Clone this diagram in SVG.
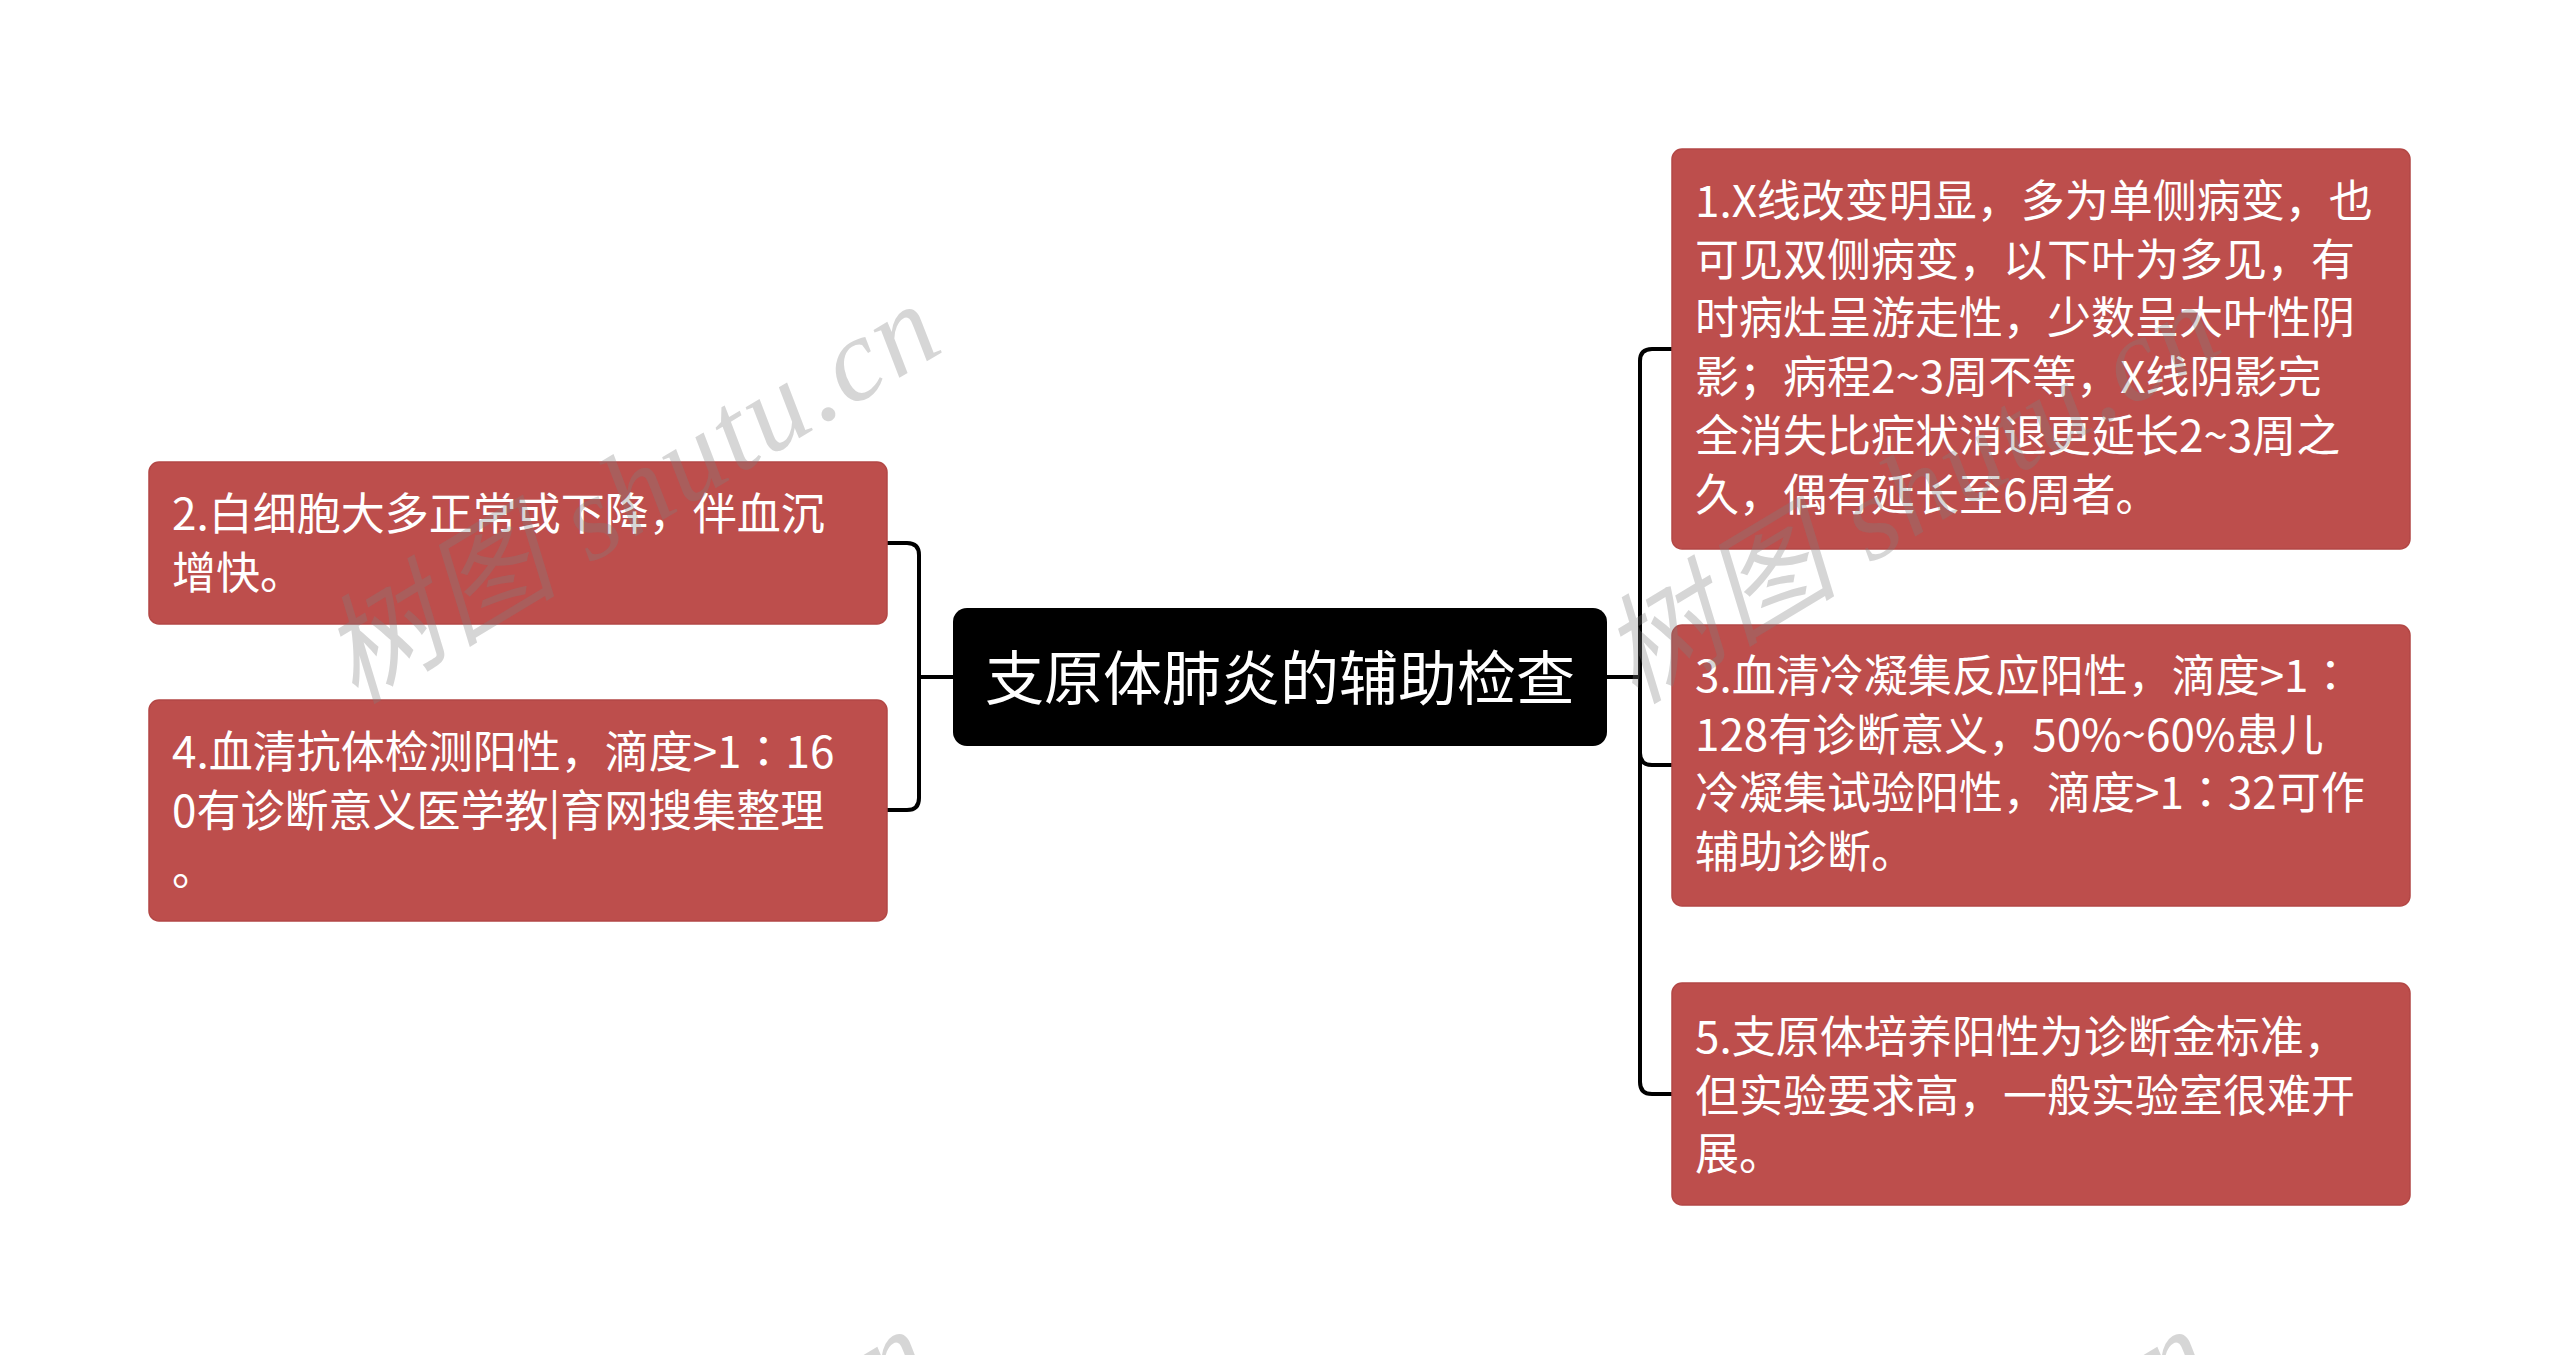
<svg xmlns="http://www.w3.org/2000/svg" width="2560" height="1355" viewBox="0 0 2560 1355">
<style>
.node rect{fill:#BD4E4C;stroke:#B34745;stroke-width:1.5}
.node text{font-family:"Noto Sans CJK SC","Noto Sans",sans-serif;font-size:44px;fill:#FFFFFF}
.node .col{font-family:"Noto Sans CJK TC","Noto Sans CJK SC",sans-serif}
.conn path{fill:none;stroke:#000000;stroke-width:4;stroke-linejoin:round}
.wm{font-family:"Liberation Serif","Noto Sans CJK SC",serif;font-style:italic;font-size:118px;fill:#808080;fill-opacity:0.32}
</style>
<rect x="0" y="0" width="2560" height="1355" fill="#FFFFFF"/>
<g id="connectors" class="conn">
<path d="M953,677 H919 V555 Q919,543 907,543 H887"/>
<path d="M953,677 H919 V798 Q919,810 907,810 H887"/>
<path d="M1607,677 H1640 V361 Q1640,349 1652,349 H1672"/>
<path d="M1607,677 H1640 V753 Q1640,765 1652,765 H1672"/>
<path d="M1607,677 H1640 V1082 Q1640,1094 1652,1094 H1672"/>
</g>
<g id="center">
<rect x="953" y="608" width="654" height="138" rx="14" fill="#000000"/>
<text x="1280" y="700" text-anchor="middle" font-family="Noto Sans CJK SC,Noto Sans,sans-serif" font-size="59" fill="#FFFFFF">支原体肺炎的辅助检查</text>
</g>
<g id="node1" class="node">
<rect x="1672" y="149" width="738" height="400" rx="10"/>
<text x="1695" y="217">
<tspan x="1695" y="217">1.X线改变明显，多为单侧病变，也</tspan>
<tspan x="1695" y="275.7">可见双侧病变，以下叶为多见，有</tspan>
<tspan x="1695" y="334.4">时病灶呈游走性，少数呈大叶性阴</tspan>
<tspan x="1695" y="393.1">影；病程2~3周不等，X线阴影完</tspan>
<tspan x="1695" y="451.8">全消失比症状消退更延长2~3周之</tspan>
<tspan x="1695" y="510.5">久，偶有延长至6周者。</tspan>
</text>
</g>
<g id="node2" class="node">
<rect x="149" y="462" width="738" height="162" rx="10"/>
<text x="172" y="530">
<tspan x="172" y="530">2.白细胞大多正常或下降，伴血沉</tspan>
<tspan x="172" y="588.7">增快。</tspan>
</text>
</g>
<g id="node3" class="node">
<rect x="1672" y="625" width="738" height="281" rx="10"/>
<text x="1695" y="692">
<tspan x="1695" y="692">3.血清冷凝集反应阳性，滴度&gt;1<tspan class="col">：</tspan></tspan>
<tspan x="1695" y="750.7">128有诊断意义，50%~60%患儿</tspan>
<tspan x="1695" y="809.4">冷凝集试验阳性，滴度&gt;1<tspan class="col">：</tspan>32可作</tspan>
<tspan x="1695" y="868.1">辅助诊断。</tspan>
</text>
</g>
<g id="node4" class="node">
<rect x="149" y="700" width="738" height="221" rx="10"/>
<text x="172" y="768">
<tspan x="172" y="768">4.血清抗体检测阳性，滴度&gt;1<tspan class="col">：</tspan>16</tspan>
<tspan x="172" y="826.7">0有诊断意义医学教|育网搜集整理</tspan>
<tspan x="172" y="885.4">。</tspan>
</text>
</g>
<g id="node5" class="node">
<rect x="1672" y="983" width="738" height="222" rx="10"/>
<text x="1695" y="1053">
<tspan x="1695" y="1053">5.支原体培养阳性为诊断金标准，</tspan>
<tspan x="1695" y="1111.7">但实验要求高，一般实验室很难开</tspan>
<tspan x="1695" y="1170.4">展。</tspan>
</text>
</g>
<g id="watermarks">
<text class="wm" transform="translate(355,705) rotate(-31)" textLength="690" lengthAdjust="spacing">树图 shutu.cn</text>
<text class="wm" transform="translate(1635,705) rotate(-31)" textLength="690" lengthAdjust="spacing">树图 shutu.cn</text>
<text class="wm" transform="translate(345,1730) rotate(-31)" textLength="690" lengthAdjust="spacing">树图 shutu.cn</text>
<text class="wm" transform="translate(1625,1730) rotate(-31)" textLength="690" lengthAdjust="spacing">树图 shutu.cn</text>
</g>
</svg>
